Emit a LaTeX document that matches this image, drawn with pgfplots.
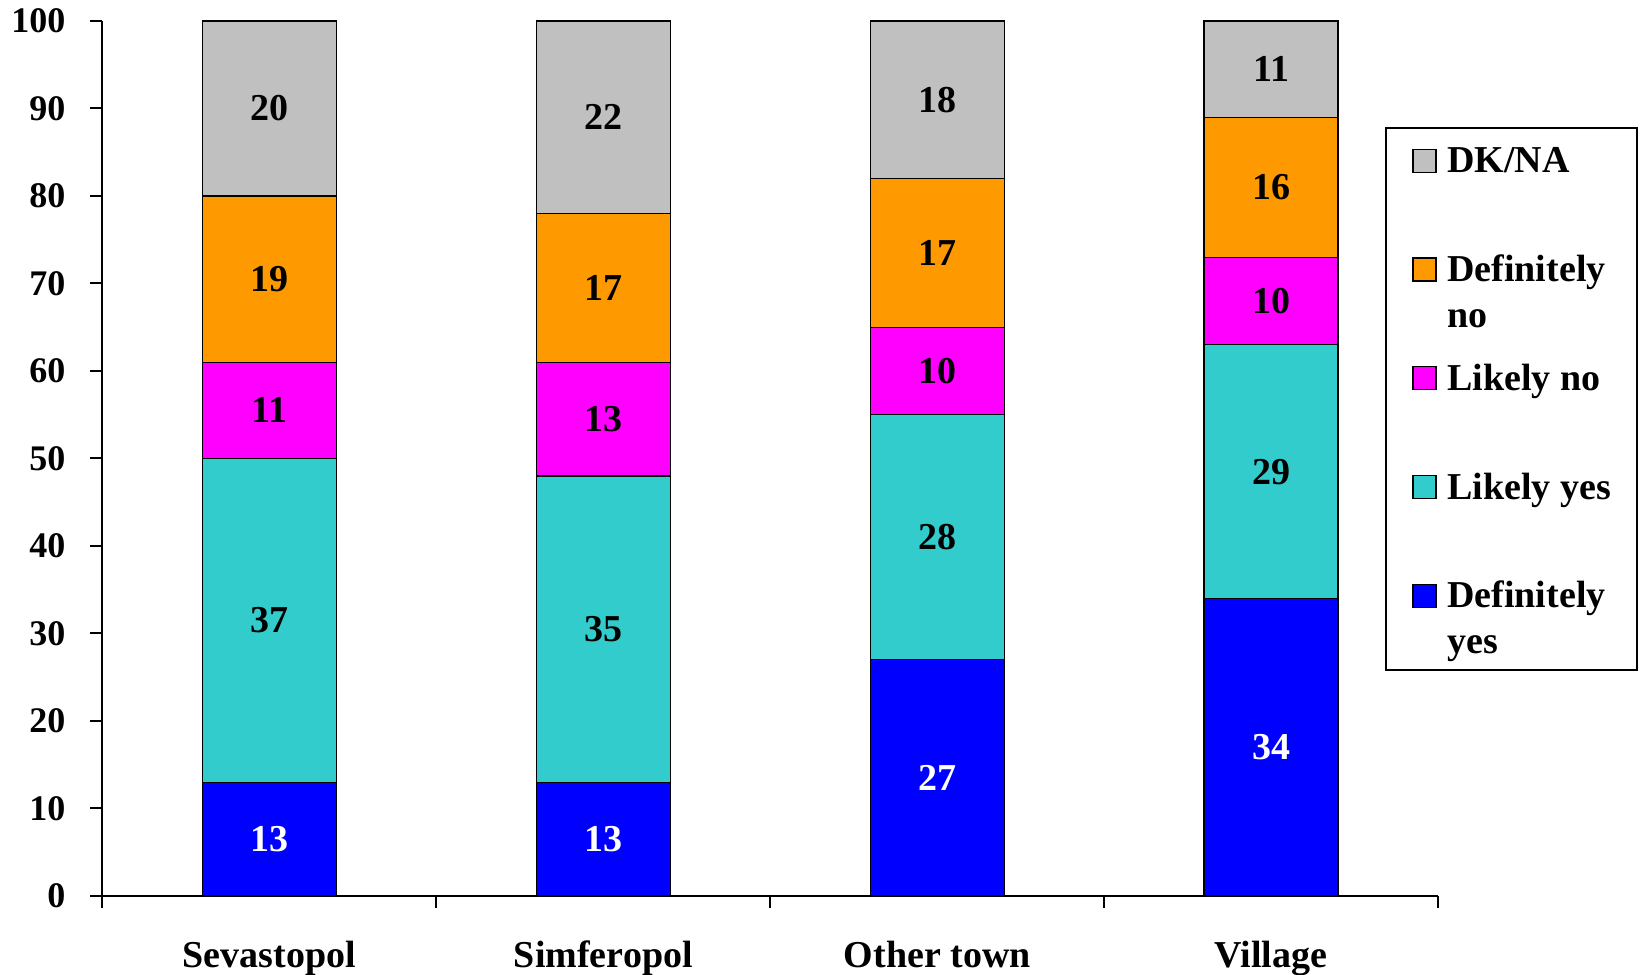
\documentclass[border=0pt]{standalone}
\usepackage{fontspec}
\setmainfont{Liberation Serif}
\usepackage{pgfplots}
\pgfplotsset{compat=1.18}
\definecolor{cDK}{HTML}{C0C0C0}
\definecolor{cDN}{HTML}{FF9900}
\definecolor{cLN}{HTML}{FF00FF}
\definecolor{cLY}{HTML}{33CCCC}
\definecolor{cDY}{HTML}{0000FF}
\newcommand{\fs}[1]{\fontsize{#1}{#1}\selectfont\bfseries}
\begin{document}
\begin{tikzpicture}
\useasboundingbox (-51.25pt,-39.5pt) rectangle (768.75pt,448pt);
\begin{axis}[
  scale only axis, width=667.75pt, height=437.5pt,
  ybar stacked, bar width=67pt,
  xmin=-0.5, xmax=3.5, ymin=0, ymax=100,
  axis lines*=left, axis line style={line width=1pt},
  xtick={0,1,2,3}, xticklabels={Sevastopol,Simferopol,Other town,Village},
  minor xtick={-0.5,0.5,1.5,2.5,3.5},
  major x tick style={draw=none},
  ytick={0,10,...,100},
  tick align=outside, major tick length=6pt, minor tick length=6pt,
  tick style={line width=1pt, black},
  /pgf/number format/assume math mode=true,
  yticklabel style={font=\fs{18}, xshift=-9pt},
  xticklabel style={font=\fs{19}, anchor=base, yshift=-29.7pt},
  legend cell align=left,
  reverse legend,
  legend image code/.code={\path[draw=none, fill=none] (0pt,-1pt) rectangle (17.75pt,9.5pt);
    \draw[#1, line width=0.6pt, overlay] (3.6pt,4.5pt) rectangle (15.1pt,16pt);},
  legend style={at={(0.9603,0.8789)}, anchor=north west, draw=black, line width=0.8pt,
    font=\fs{19}, inner xsep=10pt, inner ysep=8pt, row sep=17pt,
    nodes={text height=11.5pt, text depth=19.9pt, inner sep=3pt}},
  every axis plot/.append style={draw=black, line width=0.6pt},
]
\addplot[fill=cDY] coordinates {(0,13) (1,13) (2,27) (3,34)};
\addlegendentry{\vtop{\baselineskip=23pt\hbox{Definitely}\hbox{yes}}}
\addplot[fill=cLY] coordinates {(0,37) (1,35) (2,28) (3,29)};
\addlegendentry{Likely yes}
\addplot[fill=cLN] coordinates {(0,11) (1,13) (2,10) (3,10)};
\addlegendentry{Likely no}
\addplot[fill=cDN] coordinates {(0,19) (1,17) (2,17) (3,16)};
\addlegendentry{\vtop{\baselineskip=23pt\hbox{Definitely}\hbox{no}}}
\addplot[fill=cDK] coordinates {(0,20) (1,22) (2,18) (3,11)};
\addlegendentry{DK/NA}
\end{axis}
\begin{axis}[
  scale only axis, width=667.75pt, height=437.5pt,
  xmin=-0.5, xmax=3.5, ymin=0, ymax=100,
  hide axis,
  nodes near coords, point meta=explicit symbolic,
  every node near coord/.append style={anchor=center, font=\fs{19}},
]
\addplot[draw=none, mark=none, every node near coord/.append style={text=white}]
  table[meta=label] {
x y label
0 6.5 13
1 6.5 13
2 13.5 27
3 17 34
};
\addplot[draw=none, mark=none, every node near coord/.append style={text=black}]
  table[meta=label] {
x y label
0 31.5 37
0 55.5 11
0 70.5 19
0 90 20
1 30.5 35
1 54.5 13
1 69.5 17
1 89 22
2 41 28
2 60 10
2 73.5 17
2 91 18
3 48.5 29
3 68 10
3 81 16
3 94.5 11
};
\end{axis}
\end{tikzpicture}
\end{document}
